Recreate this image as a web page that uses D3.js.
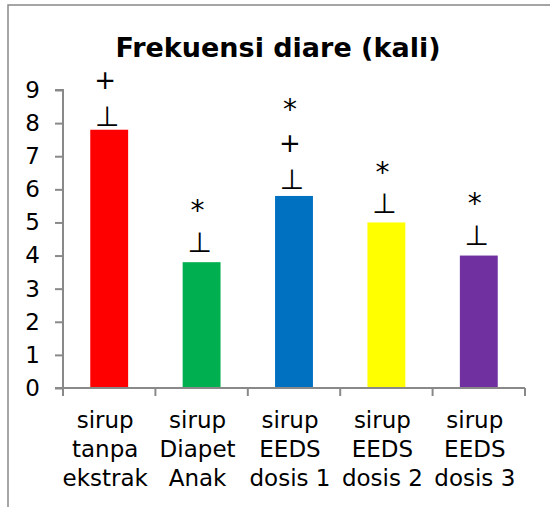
<!DOCTYPE html>
<html>
<head>
<meta charset="utf-8">
<script src="https://cdn.jsdelivr.net/npm/d3@7"></script>
<style>
  html, body { margin: 0; padding: 0; background: #fff; }
  svg { display: block; }
</style>
</head>
<body>
<svg id="chart" width="550" height="507"></svg>
<script>
// ---- data ----
const title = "Frekuensi diare (kali)";
const categories = [
  ["sirup", "tanpa", "ekstrak"],
  ["sirup", "Diapet", "Anak"],
  ["sirup", "EEDS", "dosis 1"],
  ["sirup", "EEDS", "dosis 2"],
  ["sirup", "EEDS", "dosis 3"]
];
const values = [7.8, 3.8, 5.8, 5.0, 4.0];
const barColors = ["#FF0000", "#00B050", "#0070C0", "#FFFF00", "#7030A0"];
const yTicks = [0, 1, 2, 3, 4, 5, 6, 7, 8, 9];
// annotation symbols above each bar (value positions)
const tackLevels = [7.93, 4.14, 6.03, 5.32, 4.35];
const markSymbols = [["+"], ["*"], ["+", "*"], ["*"], ["*"]];
const markLevels = [[9.30], [5.59], [7.42, 8.64], [6.74], [5.80]];

// ---- layout ----
const svg = d3.select("#chart");
const FONT = "'DejaVu Sans', Verdana, sans-serif";
const plot = { left: 63, right: 525, top: 90, bottom: 388 };

// frame border
svg.append("rect")
  .attr("x", 8).attr("y", 5).attr("width", 600).attr("height", 600)
  .attr("fill", "none").attr("stroke", "#888").attr("stroke-width", 1.5);

// title
svg.append("text")
  .attr("x", 278).attr("y", 57)
  .attr("text-anchor", "middle")
  .attr("font-family", FONT).attr("font-weight", "bold").attr("font-size", 27)
  .attr("fill", "#000")
  .text(title);

const x = d3.scaleBand()
  .domain(d3.range(categories.length))
  .range([plot.left, plot.right])
  .paddingInner(0.59)
  .paddingOuter(0.295);

const y = d3.scaleLinear().domain([0, 9]).range([plot.bottom, plot.top]);

// bars
svg.append("g").selectAll("rect")
  .data(values)
  .join("rect")
  .attr("x", (d, i) => x(i))
  .attr("y", d => y(d))
  .attr("width", x.bandwidth())
  .attr("height", d => y(0) - y(d))
  .attr("fill", (d, i) => barColors[i]);

// y axis
const yAxis = d3.axisLeft(y).tickValues(yTicks).tickFormat(d3.format("d")).tickSize(8).tickPadding(15);
const gy = svg.append("g").attr("transform", `translate(${plot.left},0)`).call(yAxis);
gy.select(".domain").attr("stroke", "#898989").attr("stroke-width", 2);
gy.selectAll(".tick line").attr("stroke", "#898989").attr("stroke-width", 2);
gy.selectAll(".tick text").attr("font-family", FONT).attr("font-size", 23).attr("fill", "#000");
gy.select(".domain").attr("d", `M-8,${plot.top}H0V${plot.bottom}`);

// x axis line and boundary ticks
const step = x.step();
const boundaries = d3.range(categories.length + 1).map(i => plot.left + i * step - (i === 0 ? 0 : 0));
const gx = svg.append("g");
gx.append("line")
  .attr("x1", plot.left - 8).attr("x2", plot.right)
  .attr("y1", plot.bottom).attr("y2", plot.bottom)
  .attr("stroke", "#898989").attr("stroke-width", 2);
gx.selectAll("line.bt")
  .data(boundaries)
  .join("line")
  .attr("class", "bt")
  .attr("x1", d => d).attr("x2", d => d)
  .attr("y1", plot.bottom).attr("y2", plot.bottom + 8)
  .attr("stroke", "#898989").attr("stroke-width", 2);

// category labels
const labels = svg.append("g");
categories.forEach((lines, i) => {
  const cx = x(i) + x.bandwidth() / 2 - 4;
  const t = labels.append("text")
    .attr("text-anchor", "middle")
    .attr("font-family", FONT).attr("font-size", 23).attr("fill", "#000");
  lines.forEach((ln, j) => {
    t.append("tspan").attr("x", cx).attr("y", 428 + j * 29).text(ln);
  });
});

// annotations: tack symbol and marks
const ann = svg.append("g").attr("font-family", FONT).attr("fill", "#000").attr("text-anchor", "middle");
tackLevels.forEach((lv, i) => {
  const cx = x(i) + x.bandwidth() / 2 - 2;
  ann.append("text")
    .attr("x", cx).attr("y", y(lv) + 1)
    .attr("font-size", 28)
    .text("\u22A5");
});
markSymbols.forEach((syms, i) => {
  const cx = x(i) + x.bandwidth() / 2 - 4;
  syms.forEach((s, j) => {
    const fs = s === "*" ? 28 : 26;
    ann.append("text")
      .attr("x", cx)
      .attr("y", y(markLevels[i][j]))
      .attr("dy", s === "*" ? "0.62em" : "0.36em")
      .attr("font-size", fs)
      .text(s);
  });
});
</script>
</body>
</html>
